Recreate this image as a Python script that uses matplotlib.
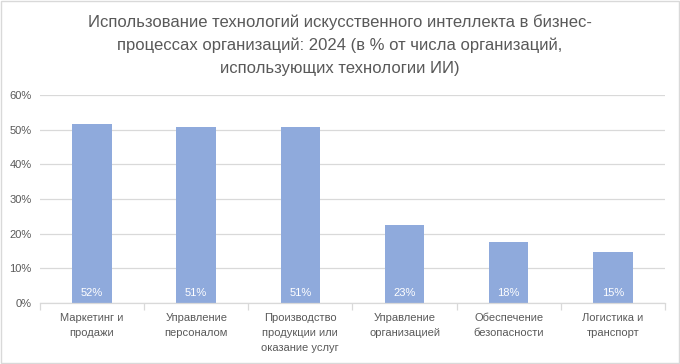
import numpy as np
import matplotlib.pyplot as plt
from matplotlib.patches import Rectangle

CATEGORIES = [
    "Маркетинг и\nпродажи",
    "Управление\nперсоналом",
    "Производство\nпродукции или\nоказание услуг",
    "Управление\nорганизацией",
    "Обеспечение\nбезопасности",
    "Логистика и\nтранспорт",
]
VALUES = [51.6, 50.8, 50.8, 22.6, 17.7, 14.6]
YTICKS = [0, 10, 20, 30, 40, 50, 60]
TITLE = ("Использование технологий искусственного интеллекта в бизнес-\n"
         "процессах организаций: 2024 (в % от числа организаций,\n"
         "использующих технологии ИИ)")

plt.rcParams['font.family'] = ['Liberation Sans Narrow', 'Liberation Sans', 'DejaVu Sans']
TEXT = '#595959'
GRID = '#D9D9D9'
BAR = '#8FAADC'

fig = plt.figure(figsize=(6.8, 3.64), dpi=100)
ax = fig.add_axes([0.0588, 0.1676, 0.919, 0.5714])

x = np.arange(len(CATEGORIES))
ax.bar(x, VALUES, width=0.38, color=BAR, zorder=2)
for xi, v in zip(x, VALUES):
    ax.text(xi, 1.5, f"{round(v):d}%", ha='center', va='bottom',
            color='white', fontsize=8, zorder=3)

ax.set_xlim(-0.5, len(CATEGORIES) - 0.5)
ax.set_ylim(0, 60)
ax.set_yticks(YTICKS)
ax.set_yticklabels([f"{t}%" for t in YTICKS], color=TEXT, fontsize=8)
ax.yaxis.grid(True, color=GRID, linewidth=0.9, zorder=0)
ax.tick_params(axis='y', length=0, pad=6)

ax.set_xticks(x)
ax.set_xticklabels(CATEGORIES, color=TEXT, fontsize=8, linespacing=1.65)
ax.set_xticks(np.arange(len(CATEGORIES) + 1) - 0.5, minor=True)
ax.tick_params(axis='x', which='major', length=0, pad=7)
ax.tick_params(axis='x', which='minor', length=5, color=GRID, width=0.9)

for s in ['top', 'right', 'left']:
    ax.spines[s].set_visible(False)
ax.spines['bottom'].set_color(GRID)
ax.spines['bottom'].set_linewidth(0.9)

fig.text(0.5, 0.96, TITLE, ha='center', va='top', color=TEXT,
         fontsize=12, linespacing=1.6)

fig.patches.append(Rectangle((0.002, 0.003), 0.996, 0.994, transform=fig.transFigure,
                             fill=False, edgecolor='#D9D9D9', linewidth=1))

fig.savefig('out.png', dpi=100)
